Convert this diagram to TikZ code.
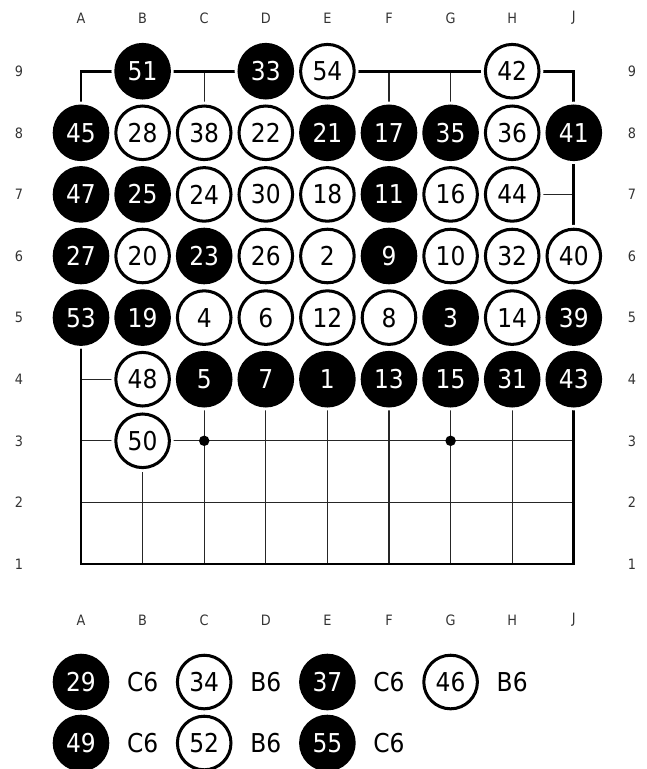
\documentclass[tikz,border=0pt]{standalone}
\usepackage{fontspec}
\setmainfont{DejaVu Sans Condensed}
\usetikzlibrary{positioning}
\tikzset{
  thinline/.style={line width=0.55pt, black!85},
  edgeline/.style={line width=1.2pt, black},
  stone/.style={circle, minimum size=0.87cm, inner sep=0pt, line width=1.4pt,
                font=\fontsize{12}{12}\selectfont,
                preaction={draw=white, line width=4pt}},
  bstone/.style={stone, draw=black, fill=black, text=white},
  wstone/.style={stone, draw=black, fill=white, text=black},
  coordlbl/.style={font=\fontsize{6.6}{7}\selectfont, text=black!80, inner sep=0pt},
  movelbl/.style={font=\fontsize{12}{12}\selectfont, inner sep=0pt},
  hoshi/.style={circle, fill=black, minimum size=0.17cm, inner sep=0pt},
}
\begin{document}
\begin{tikzpicture}
  \useasboundingbox (-1.315,-3.328) rectangle (9.188,9.156);
  % grid
  \foreach \i in {1,...,7} {
    \draw[thinline] (\i,0) -- (\i,8);
    \draw[thinline] (0,\i) -- (8,\i);
  }
  \draw[edgeline] (0,0) rectangle (8,8);
  \node[hoshi] (h1) at (2,2) {};
  \node[hoshi] (h2) at (6,2) {};
  % coordinates
  \foreach \l [count=\i from 0] in {A,B,C,D,E,F,G,H,J} {
    \node[coordlbl] (top\l) at (\i,8.864) {\l};
    \node[coordlbl] (bot\l) at (\i,-0.909) {\l};
  }
  \foreach \r in {1,...,9} {
    \node[coordlbl] (left\r) at (-1.006,\r-1) {\r};
    \node[coordlbl] (right\r) at (8.945,\r-1) {\r};
  }
  % black stones
  \foreach \c/\r/\n in {1/8/51, 3/8/33, 0/7/45, 4/7/21, 5/7/17, 6/7/35, 8/7/41,
      0/6/47, 1/6/25, 5/6/11, 0/5/27, 2/5/23, 5/5/9, 0/4/53, 1/4/19, 6/4/3,
      8/4/39, 2/3/5, 3/3/7, 4/3/1, 5/3/13, 6/3/15, 7/3/31, 8/3/43}
    \node[bstone] (s\n) at (\c,\r) {\n};
  % white stones
  \foreach \c/\r/\n in {4/8/54, 7/8/42, 1/7/28, 2/7/38, 3/7/22, 7/7/36,
      2/6/24, 3/6/30, 4/6/18, 6/6/16, 7/6/44, 1/5/20, 3/5/26, 4/5/2, 6/5/10,
      7/5/32, 8/5/40, 2/4/4, 3/4/6, 4/4/12, 5/4/8, 7/4/14, 1/3/48, 1/2/50}
    \node[wstone] (s\n) at (\c,\r) {\n};
  % moves played elsewhere
  \node[bstone] (s29) at (0,-1.916) {29};
  \node[movelbl] (m29) at (1,-1.916) {C6};
  \node[wstone] (s34) at (2,-1.916) {34};
  \node[movelbl] (m34) at (3,-1.916) {B6};
  \node[bstone] (s37) at (4,-1.916) {37};
  \node[movelbl] (m37) at (5,-1.916) {C6};
  \node[wstone] (s46) at (6,-1.916) {46};
  \node[movelbl] (m46) at (7,-1.916) {B6};
  \node[bstone] (s49) at (0,-2.906) {49};
  \node[movelbl] (m49) at (1,-2.906) {C6};
  \node[wstone] (s52) at (2,-2.906) {52};
  \node[movelbl] (m52) at (3,-2.906) {B6};
  \node[bstone] (s55) at (4,-2.906) {55};
  \node[movelbl] (m55) at (5,-2.906) {C6};
\end{tikzpicture}
\end{document}
